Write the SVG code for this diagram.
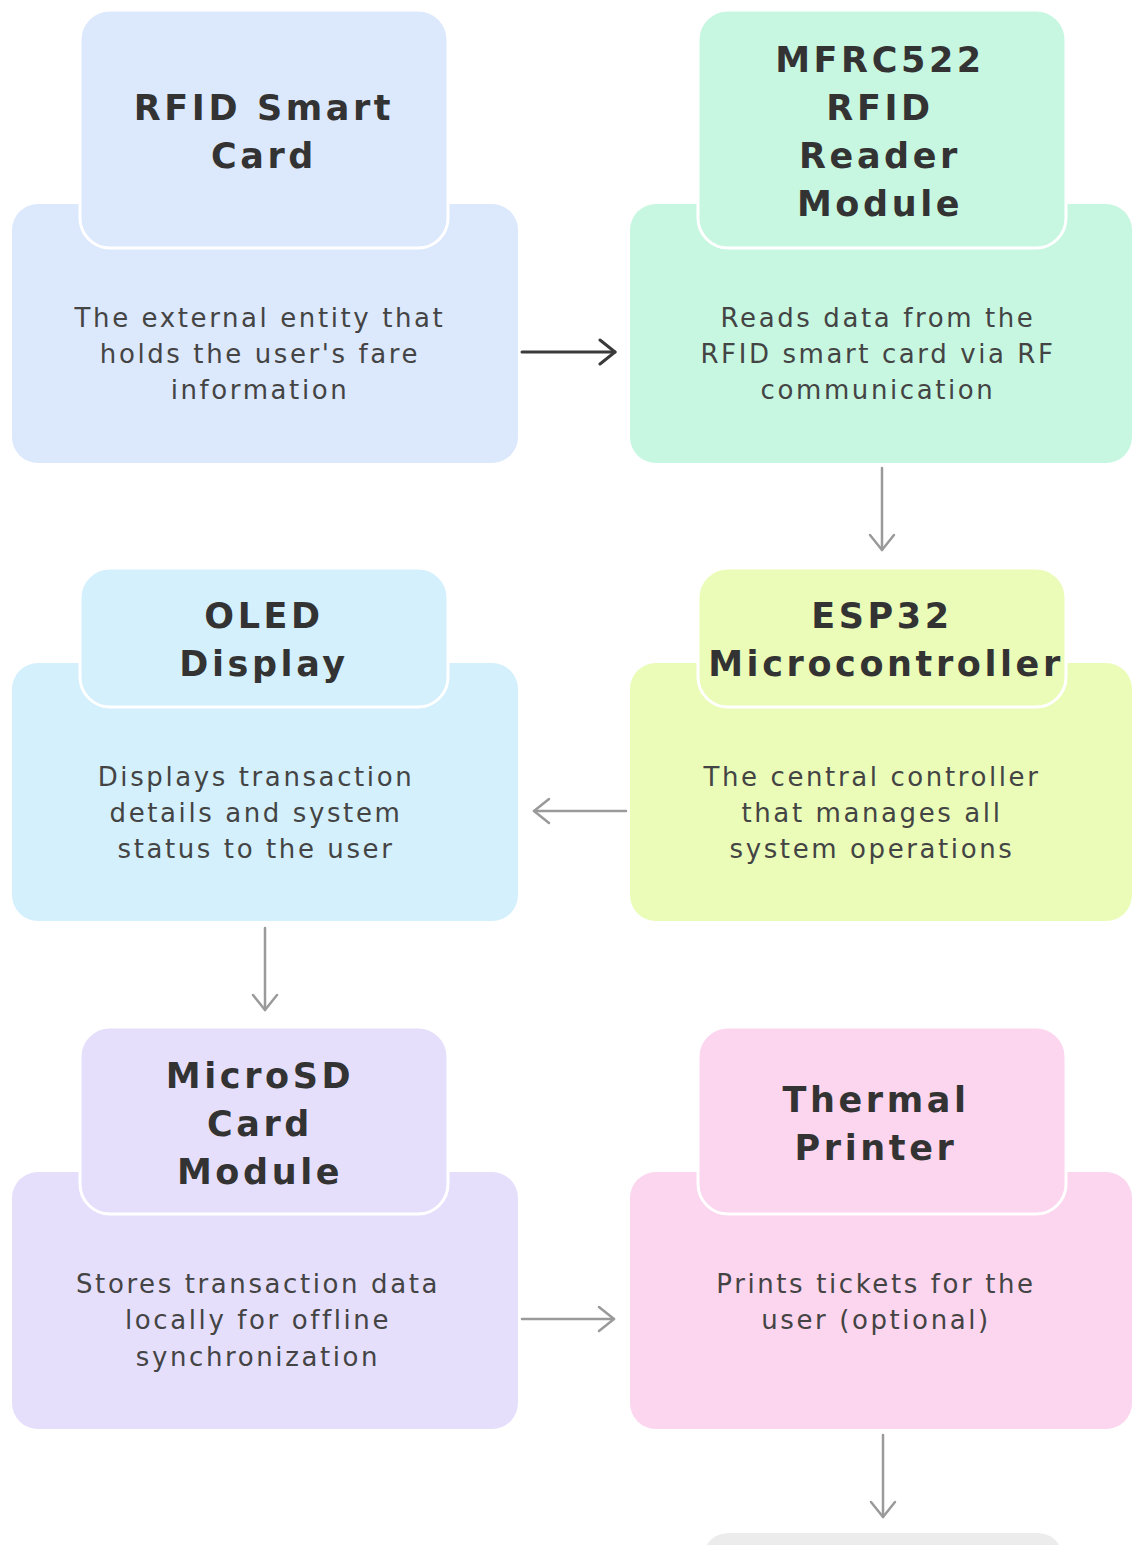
<svg xmlns="http://www.w3.org/2000/svg" width="1132" height="1545" viewBox="0 0 1132 1545">
  <style>
    .title { font-family: "DejaVu Sans", "Liberation Sans", sans-serif; font-weight: bold; font-size: 35px; letter-spacing: 3.6px; fill: #333333; text-anchor: middle; }
    .desc { font-family: "DejaVu Sans", "Liberation Sans", sans-serif; font-size: 26px; letter-spacing: 2.6px; fill: #444444; text-anchor: middle; }
    .hbox { stroke: #ffffff; stroke-width: 3; }
    .conn-dark { stroke: #3a3a3a; stroke-width: 3; fill: none; stroke-linecap: round; }
    .conn { stroke: #9a9a9a; stroke-width: 2.5; fill: none; stroke-linecap: round; }
  </style>
  <defs>
    <marker id="arrDark" viewBox="0 0 30 30" refX="28" refY="15" markerWidth="30" markerHeight="30" markerUnits="userSpaceOnUse" orient="auto">
      <path d="M13 3 L28 15 L13 27" fill="none" stroke="#3a3a3a" stroke-width="3" stroke-linecap="round" stroke-linejoin="round"/>
    </marker>
    <marker id="arr" viewBox="0 0 30 30" refX="28" refY="15" markerWidth="30" markerHeight="30" markerUnits="userSpaceOnUse" orient="auto">
      <path d="M13 3 L28 15 L13 27" fill="none" stroke="#9a9a9a" stroke-width="2.5" stroke-linecap="round" stroke-linejoin="round"/>
    </marker>
  </defs>
  <rect x="0" y="0" width="1132" height="1545" fill="#ffffff"/>

  <g id="node-rfid-card">
    <rect x="12" y="204" width="506" height="259" rx="26" fill="#dce8fc"/>
    <rect class="hbox" x="80" y="10" width="368" height="238" rx="30" fill="#dce8fc"/>
    <text class="title" x="264" y="120">RFID Smart</text>
    <text class="title" x="264" y="168">Card</text>
    <text class="desc" x="260" y="327">The external entity that</text>
    <text class="desc" x="260" y="363">holds the user's fare</text>
    <text class="desc" x="260" y="399">information</text>
  </g>

  <g id="node-mfrc522">
    <rect x="630" y="204" width="502" height="259" rx="26" fill="#c7f7e1"/>
    <rect class="hbox" x="698" y="10" width="368" height="238" rx="30" fill="#c7f7e1"/>
    <text class="title" x="880" y="72">MFRC522</text>
    <text class="title" x="880" y="120">RFID</text>
    <text class="title" x="880" y="168">Reader</text>
    <text class="title" x="880" y="216">Module</text>
    <text class="desc" x="878" y="327">Reads data from the</text>
    <text class="desc" x="878" y="363">RFID smart card via RF</text>
    <text class="desc" x="878" y="399">communication</text>
  </g>

  <g id="node-esp32">
    <rect x="630" y="663" width="502" height="258" rx="26" fill="#eafcb8"/>
    <rect class="hbox" x="698" y="568" width="368" height="139" rx="30" fill="#eafcb8"/>
    <text class="title" x="882" y="628">ESP32</text>
    <text class="title" x="886" y="676">Microcontroller</text>
    <text class="desc" x="872" y="786">The central controller</text>
    <text class="desc" x="872" y="822">that manages all</text>
    <text class="desc" x="872" y="858">system operations</text>
  </g>

  <g id="node-oled">
    <rect x="12" y="663" width="506" height="258" rx="26" fill="#d3f0fc"/>
    <rect class="hbox" x="80" y="568" width="368" height="139" rx="30" fill="#d3f0fc"/>
    <text class="title" x="264" y="628">OLED</text>
    <text class="title" x="264" y="676">Display</text>
    <text class="desc" x="256" y="786">Displays transaction</text>
    <text class="desc" x="256" y="822">details and system</text>
    <text class="desc" x="256" y="858">status to the user</text>
  </g>

  <g id="node-microsd">
    <rect x="12" y="1172" width="506" height="257" rx="26" fill="#e5dffc"/>
    <rect class="hbox" x="80" y="1027" width="368" height="187" rx="30" fill="#e5dffc"/>
    <text class="title" x="260" y="1088">MicroSD</text>
    <text class="title" x="260" y="1136">Card</text>
    <text class="title" x="260" y="1184">Module</text>
    <text class="desc" x="258" y="1293">Stores transaction data</text>
    <text class="desc" x="258" y="1329">locally for offline</text>
    <text class="desc" x="258" y="1366">synchronization</text>
  </g>

  <g id="node-thermal">
    <rect x="630" y="1172" width="502" height="257" rx="26" fill="#fcd5ee"/>
    <rect class="hbox" x="698" y="1027" width="368" height="187" rx="30" fill="#fcd5ee"/>
    <text class="title" x="876" y="1112">Thermal</text>
    <text class="title" x="876" y="1160">Printer</text>
    <text class="desc" x="876" y="1293">Prints tickets for the</text>
    <text class="desc" x="876" y="1329">user (optional)</text>
  </g>

  <g id="node-next">
    <rect x="705" y="1533" width="356" height="40" rx="24" fill="#ececec"/>
  </g>

  <g id="connectors">
    <line class="conn-dark" x1="522" y1="352" x2="615" y2="352" marker-end="url(#arrDark)"/>
    <line class="conn" x1="882" y1="468" x2="882" y2="550" marker-end="url(#arr)"/>
    <line class="conn" x1="626" y1="811" x2="534" y2="811" marker-end="url(#arr)"/>
    <line class="conn" x1="265" y1="928" x2="265" y2="1010" marker-end="url(#arr)"/>
    <line class="conn" x1="522" y1="1319" x2="614" y2="1319" marker-end="url(#arr)"/>
    <line class="conn" x1="883" y1="1435" x2="883" y2="1517" marker-end="url(#arr)"/>
  </g>
</svg>
